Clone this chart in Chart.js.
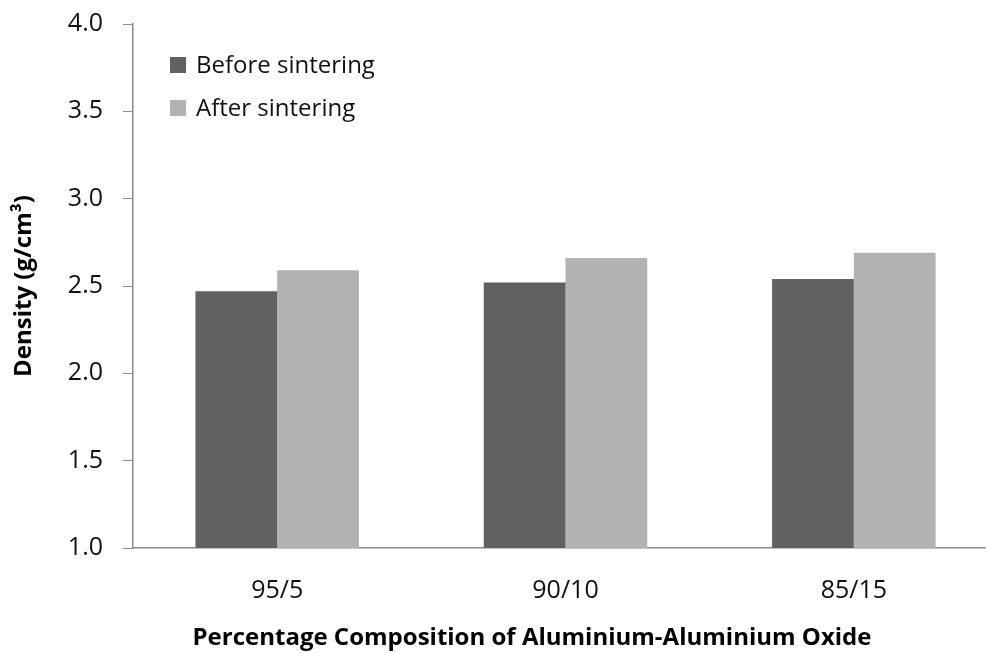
<!DOCTYPE html>
<html lang="en">
  <head>
    <meta charset="utf-8" />
    <title>Density before and after sintering</title>
    <style>
      * {
        margin: 0;
        padding: 0;
      }
      body {
        background: white;
        overflow: hidden;
      }
      .chartBox {
        width: 1000px;
        height: 653px;
      }
    </style>
  </head>
  <body>
    <div class="chartBox">
      <canvas id="myChart"></canvas>
    </div>

    <script src="https://cdn.jsdelivr.net/npm/chart.js@4/dist/chart.umd.min.js"></script>

    <script>
      // data block
      const compositions = ["95/5", "90/10", "85/15"];
      const beforeSintering = [2.47, 2.52, 2.54];
      const afterSintering = [2.59, 2.66, 2.69];
      const yTicks = [1.0, 1.5, 2.0, 2.5, 3.0, 3.5, 4.0];
      const xTitle = "Percentage Composition of Aluminium-Aluminium Oxide";

      const FONT = "'Open Sans', sans-serif";

      const data = {
        labels: compositions,
        datasets: [
          {
            label: "Before sintering",
            data: beforeSintering,
            backgroundColor: "#616161",
          },
          {
            label: "After sintering",
            data: afterSintering,
            backgroundColor: "#b2b2b2",
          },
        ],
      };

      // legend drawn inside the plot, stacked; x title drawn a bit left of centre like the original
      const insideLegend = {
        id: "insideLegend",
        afterDraw(chart) {
          const { ctx, chartArea } = chart;
          ctx.save();
          ctx.font = `24px ${FONT}`;
          ctx.textBaseline = "middle";
          chart.data.datasets.forEach((ds, i) => {
            const x = chartArea.left + 37;
            const y = chartArea.top + 41 + i * 43;
            ctx.fillStyle = ds.backgroundColor;
            ctx.fillRect(x, y - 8, 16, 16);
            ctx.fillStyle = "#111";
            ctx.fillText(ds.label, x + 26, y + 1);
          });

          ctx.font = `bold 24px ${FONT}`;
          ctx.textAlign = "center";
          ctx.fillStyle = "#000";
          ctx.fillText(xTitle, 532, chartArea.bottom + 90);
          ctx.restore();
        },
      };

      const config = {
        type: "bar",
        data: data,
        options: {
          responsive: true,
          maintainAspectRatio: false,
          animation: false,
          layout: { padding: { top: 24, right: 2, left: 0, bottom: 0 } },
          categoryPercentage: 0.567,
          barPercentage: 1.0,
          plugins: {
            legend: { display: false },
            tooltip: { enabled: false },
          },
          scales: {
            x: {
              grid: { display: false },
              border: { display: true, color: "#8c8c8c", width: 1.5 },
              ticks: {
                color: "#111",
                font: { family: FONT, size: 25 },
                padding: 20,
              },
              afterFit(scale) {
                scale.height = 105;
              },
            },
            y: {
              min: 1,
              max: 4,
              afterBuildTicks(scale) {
                scale.ticks = yTicks.map((v) => ({ value: v }));
              },
              grid: {
                display: true,
                drawOnChartArea: false,
                drawTicks: true,
                tickLength: 10,
                color: "#8c8c8c",
              },
              border: { display: true, color: "#8c8c8c", width: 1.5 },
              ticks: {
                color: "#111",
                font: { family: FONT, size: 25 },
                padding: 20,
                callback: (v) => Number(v).toFixed(1),
              },
              title: {
                display: true,
                text: "Density (g/cm³)",
                color: "#000",
                font: { family: FONT, size: 24, weight: "bold" },
                padding: { top: 10, bottom: 0 },
              },
              afterFit(scale) {
                scale.width = 133;
                scale.paddingTop = 0;
                scale.paddingBottom = 0;
              },
            },
          },
        },
        plugins: [insideLegend],
      };

      // init render block
      const myChart = new Chart(document.getElementById("myChart"), config);
    </script>
  </body>
</html>
